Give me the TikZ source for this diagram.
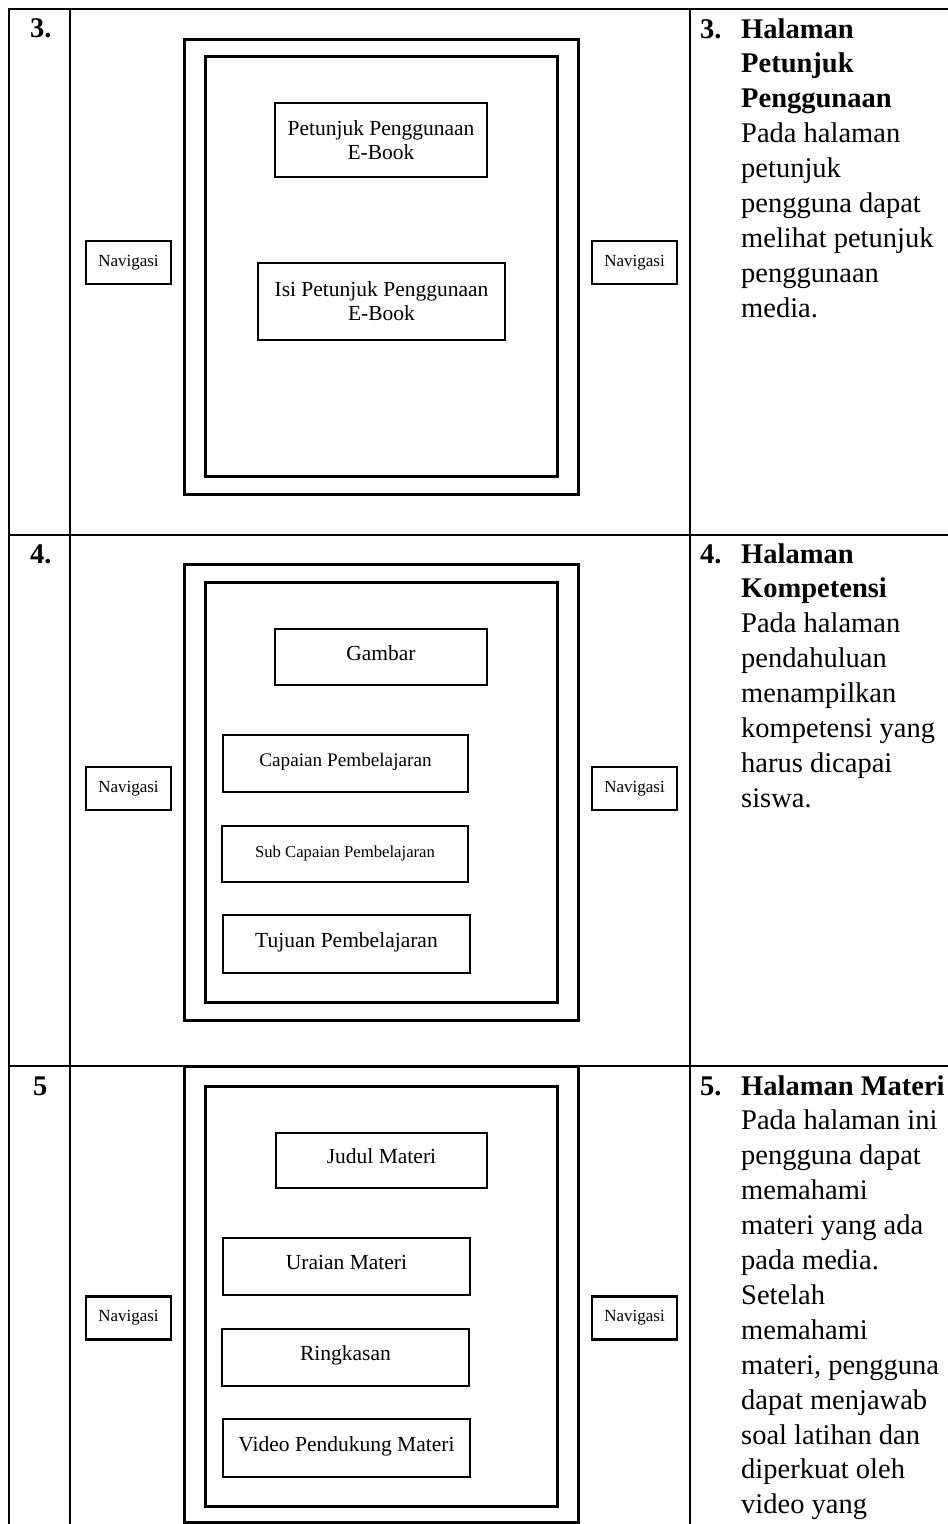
\documentclass[tikz,border=0pt]{standalone}
\usepackage{fontspec}
\setmainfont{Liberation Serif}
\newcommand{\desclines}[1]{\begin{tabular}[t]{@{}l@{}}#1\end{tabular}}
\begin{document}
\begin{tikzpicture}[x=1pt,y=-1pt,
	frame/.style={line width=3pt},
	box/.style={draw,line width=2.6pt,inner sep=0pt,align=center,font=\fontsize{21.5}{24}\selectfont},
	oneline/.style={text height=15pt,text depth=9pt},
	nav/.style={draw,line width=2.2pt,inner sep=0pt,minimum width=85pt,minimum height=43pt,font=\fontsize{17}{20}\selectfont},
	desc/.style={anchor=base west,inner sep=0pt,font=\fontsize{28.5}{34.9}\selectfont},
	num/.style={anchor=base west,inner sep=0pt,font=\fontsize{28.5}{34.9}\selectfont\bfseries}]
	\useasboundingbox (0,0) rectangle (948,1524);
	% table
	\draw[line width=1.3pt] (9,1524)--(9,9)--(948,9) (70,9)--(70,1524) (690,9)--(690,1524)
	(9,535)--(948,535) (9,1066)--(948,1066);
	% frames
	\foreach \yA/\yB/\yC/\yD in {39/494/56/476,564/1020/582/1002,1066/1522/1086/1506}
		{
			\draw[frame] (184,\yA) rectangle (578,\yB);
			\draw[frame] (205,\yC) rectangle (557,\yD);
		}
	\foreach \y/\n in {262.5/3,788.5/4,1318/5}
		{
			\node[nav] (navL\n) at (128.5,\y) {Navigasi};
			\node[nav] (navR\n) at (634.5,\y) {Navigasi};
		}
	% row 3
	\node[num] (no3) at (30,37) {3.};
	\node[box,minimum width=212pt,minimum height=74pt] (petunjuk) at (381,140) {Petunjuk Penggunaan\\E-Book};
	\node[box,minimum width=247pt,minimum height=77pt] (isi) at (381.5,301.5) {Isi Petunjuk Penggunaan\\E-Book};
	\node[num] (ket3) at (700,38) {3.};
	\node[desc] (desc3) at (741,38) {\desclines{\textbf{Halaman}\\\textbf{Petunjuk}\\\textbf{Penggunaan}\\Pada halaman\\petunjuk\\pengguna dapat\\melihat petunjuk\\penggunaan\\media.}};
	% row 4
	\node[num] (no4) at (30,563) {4.};
	\node[box,oneline,minimum width=212pt,minimum height=56pt] (gambar) at (381,657) {Gambar};
	\node[box,oneline,minimum width=245pt,minimum height=57pt,font=\fontsize{19.2}{22}\selectfont] (capaian) at (345.5,763.5) {Capaian Pembelajaran};
	\node[box,oneline,minimum width=246pt,minimum height=56pt,font=\fontsize{16.7}{20}\selectfont] (subcapaian) at (345,854) {Sub Capaian Pembelajaran};
	\node[box,oneline,minimum width=247pt,minimum height=58pt] (tujuan) at (346.5,944) {Tujuan Pembelajaran};
	\node[num] (ket4) at (700,563) {4.};
	\node[desc] (desc4) at (741,563) {\desclines{\textbf{Halaman}\\\textbf{Kompetensi}\\Pada halaman\\pendahuluan\\menampilkan\\kompetensi yang\\harus dicapai\\siswa.}};
	% row 5
	\node[num] (no5) at (33,1095) {5};
	\node[box,oneline,minimum width=211pt,minimum height=55pt] (judul) at (381.5,1160.5) {Judul Materi};
	\node[box,oneline,minimum width=247pt,minimum height=57pt] (uraian) at (346.5,1266.5) {Uraian Materi};
	\node[box,oneline,minimum width=247pt,minimum height=57pt] (ringkasan) at (345.5,1357.5) {Ringkasan};
	\node[box,oneline,minimum width=247pt,minimum height=58pt] (video) at (346.5,1448) {Video Pendukung Materi};
	\node[num] (ket5) at (700,1095) {5.};
	\node[desc] (desc5) at (741,1095) {\desclines{\textbf{Halaman Materi}\\Pada halaman ini\\pengguna dapat\\memahami\\materi yang ada\\pada media.\\Setelah\\memahami\\materi, pengguna\\dapat menjawab\\soal latihan dan\\diperkuat oleh\\video yang}};
\end{tikzpicture}
\end{document}
